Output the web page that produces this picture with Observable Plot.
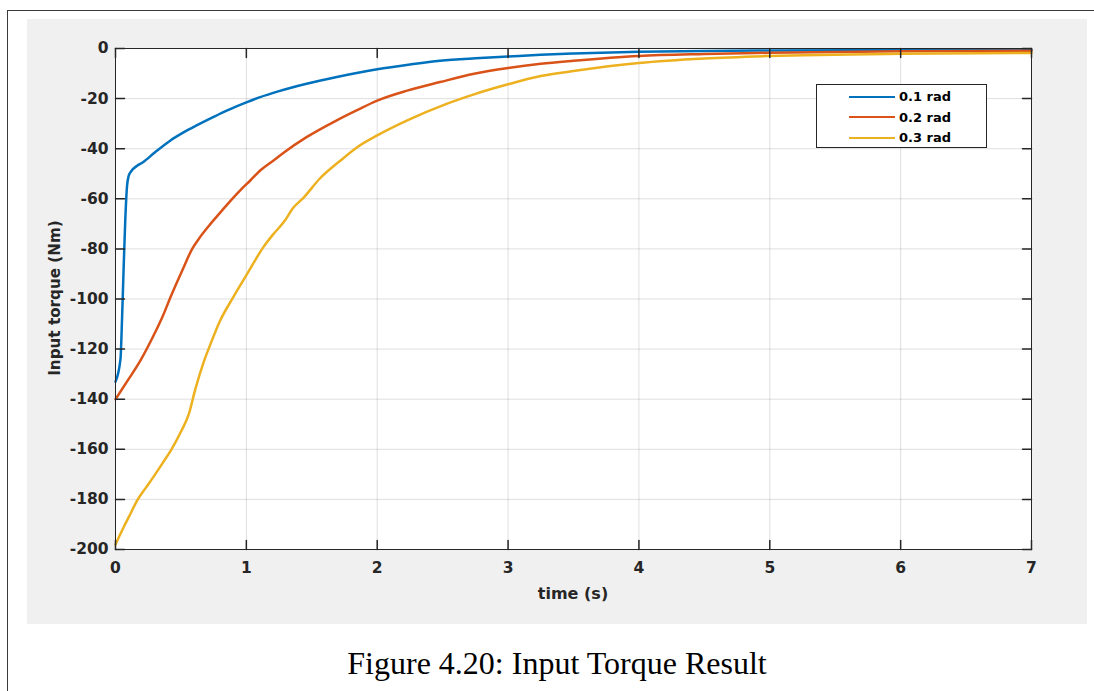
<!DOCTYPE html>
<html>
<head>
<meta charset="utf-8">
<script src="https://cdn.jsdelivr.net/npm/d3@7"></script>
<script src="https://cdn.jsdelivr.net/npm/@observablehq/plot@0.6"></script>
<style>
  html, body { margin: 0; padding: 0; background: #fff; }
  body { width: 1094px; height: 691px; overflow: hidden; position: relative; font-family: "DejaVu Sans", sans-serif; }
  #border { position: absolute; left: 7px; top: 10px; width: 1200px; height: 800px; border: 1px solid #3a3a3a; box-sizing: border-box; }
  #panel { position: absolute; left: 27px; top: 19px; width: 1060px; height: 605px; background: #f0f0f0; }
  #legend { position: absolute; left: 816px; top: 84px; width: 171px; height: 64px; box-sizing: border-box; border: 1px solid #262626; background: #fff; }
  .row { position: absolute; left: 32px; height: 20px; display: flex; align-items: center; font-weight: bold; font-size: 13px; color: #000; }
  .sw { width: 46px; height: 0; border-top: 2.5px solid; margin-right: 4px; }
  .ttl { position: absolute; font-weight: bold; color: #262626; white-space: nowrap; }
  #caption { position: absolute; left: 0; width: 1114px; top: 645px; text-align: center; font-family: "Liberation Serif", "Times New Roman", serif; font-size: 32px; color: #000; white-space: nowrap; }
</style>
</head>
<body>
<div id="border"></div>
<div id="panel"></div>
<div id="legend"></div>
<div class="ttl" id="xtitle" style="left:0;top:584px;width:1146px;text-align:center;font-size:16px;">time (s)</div>
<div class="ttl" id="ytitle" style="left:55px;top:298px;transform:translate(-50%,-50%) rotate(-90deg);font-size:15.2px;">Input torque (Nm)</div>
<div id="caption">Figure 4.20: Input Torque Result</div>
<script>
// ---- data ----
const seriesNames = ["0.1 rad", "0.2 rad", "0.3 rad"];
const seriesColors = ["#0072BD", "#D95319", "#EDB120"];
const xTicks = [0, 1, 2, 3, 4, 5, 6, 7];
const yTicks = [0, -20, -40, -60, -80, -100, -120, -140, -160, -180, -200];

const t1 = [0, 0.038, 0.05, 0.062, 0.075, 0.088, 0.1, 0.12, 0.16, 0.21, 0.3, 0.42, 0.52, 0.62, 0.75, 0.85, 1.0, 1.1, 1.25, 1.46, 1.7, 2.0, 2.25, 2.48, 2.75, 3.0, 3.25, 3.5, 4.0, 4.5, 5.0, 6.0, 7.0];
const v1 = [-133, -124, -108, -88, -68, -55, -51, -49, -47, -45.4, -41.5, -36.7, -33.5, -30.7, -27.3, -24.8, -21.5, -19.5, -17, -14.1, -11.3, -8.3, -6.4, -4.9, -3.9, -3.2, -2.5, -2, -1.3, -1.0, -0.8, -0.7, -0.6];

const t2 = [0, 0.1, 0.19, 0.306, 0.36, 0.42, 0.51, 0.586, 0.65, 0.726, 0.8, 0.88, 0.955, 1.03, 1.11, 1.2, 1.29, 1.46, 1.69, 1.85, 2.0, 2.23, 2.48, 2.74, 3.0, 3.25, 3.5, 4.0, 4.5, 5.0, 6.0, 7.0];
const v2 = [-140, -132, -124.6, -113, -107, -99.3, -88.6, -80, -75, -70, -65.5, -60.7, -56.5, -52.7, -48.5, -45, -41.4, -35.4, -28.7, -24.5, -20.8, -16.8, -13.4, -10.1, -7.8, -6.1, -4.9, -3.0, -2.2, -1.7, -1.1, -0.9];

const t3 = [0, 0.063, 0.1, 0.14, 0.166, 0.23, 0.29, 0.36, 0.43, 0.5, 0.56, 0.61, 0.675, 0.726, 0.8, 0.9, 1.006, 1.13, 1.2, 1.286, 1.36, 1.44, 1.56, 1.72, 1.85, 2.0, 2.23, 2.53, 2.74, 3.0, 3.25, 3.5, 4.0, 4.5, 5.0, 6.0, 7.0];
const v3 = [-198, -191, -187.2, -183, -180.4, -175.5, -171, -165.5, -159.8, -153, -146, -136, -125, -118, -108.6, -99.3, -90, -79.3, -74.5, -69.3, -63.5, -59.4, -52, -44.7, -39.3, -34.7, -28.7, -22.1, -18.3, -14.3, -11, -9.0, -5.8, -4, -3, -2.1, -1.8];

const rows = [];
[[t1, v1], [t2, v2], [t3, v3]].forEach(([ts, vs], i) => {
  ts.forEach((t, j) => rows.push({ t, v: vs[j], s: seriesNames[i] }));
});

const tickShape = { draw(ctx, l) { ctx.moveTo(0, 0); ctx.lineTo(0, -l); } };
const axisColor = "#262626";

const chart = Plot.plot({
  width: 1060,
  height: 605,
  marginLeft: 88,
  marginRight: 56,
  marginTop: 29,
  marginBottom: 75,
  style: { background: "#f0f0f0", fontFamily: "DejaVu Sans, sans-serif", overflow: "visible" },
  x: { domain: [0, 7], axis: null },
  y: { domain: [-200, 0], axis: null },
  color: { domain: seriesNames, range: seriesColors },
  marks: [
    Plot.frame({ fill: "white" }),
    Plot.gridX(xTicks, { stroke: axisColor, strokeOpacity: 0.15, strokeWidth: 1 }),
    Plot.gridY(yTicks, { stroke: axisColor, strokeOpacity: 0.15, strokeWidth: 1 }),
    Plot.line(rows, { x: "t", y: "v", z: "s", stroke: "s", strokeWidth: 2.5, curve: "monotone-x" }),
    Plot.frame({ stroke: axisColor, strokeWidth: 1 }),
    Plot.vector(xTicks, { x: d => d, y: -200, length: 9, rotate: 0, anchor: "start", shape: tickShape, stroke: axisColor }),
    Plot.vector(xTicks, { x: d => d, y: 0, length: 9, rotate: 180, anchor: "start", shape: tickShape, stroke: axisColor }),
    Plot.vector(yTicks, { x: 0, y: d => d, length: 9, rotate: 90, anchor: "start", shape: tickShape, stroke: axisColor }),
    Plot.vector(yTicks, { x: 7, y: d => d, length: 9, rotate: -90, anchor: "start", shape: tickShape, stroke: axisColor }),
    Plot.axisX(xTicks, { anchor: "bottom", tickSize: 0, tickPadding: 12, fontSize: 15.5, fontWeight: "bold", fill: axisColor, label: null, tickFormat: d => String(d) }),
    Plot.axisY(yTicks, { anchor: "left", tickSize: 0, tickPadding: 7, fontSize: 15.5, fontWeight: "bold", fill: axisColor, label: null, tickFormat: d => String(d) })
  ]
});
document.getElementById("panel").appendChild(chart);

// legend
const lg = document.getElementById("legend");
seriesNames.forEach((name, i) => {
  const r = document.createElement("div");
  r.className = "row";
  r.style.top = (1.5 + i * 20.5) + "px";
  const sw = document.createElement("span");
  sw.className = "sw";
  sw.style.borderTopColor = seriesColors[i];
  const tx = document.createElement("span");
  tx.textContent = name;
  r.appendChild(sw); r.appendChild(tx);
  lg.appendChild(r);
});
</script>
</body>
</html>
